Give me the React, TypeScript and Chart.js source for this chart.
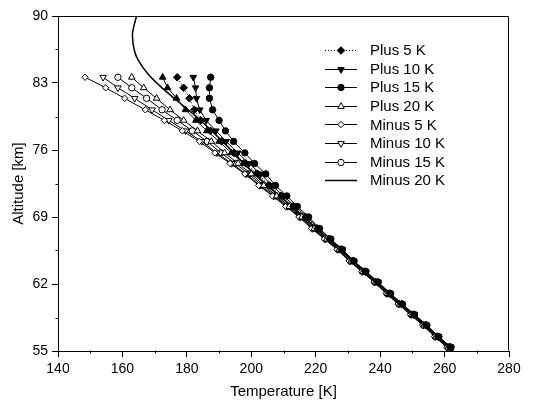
import { useEffect, useRef } from 'react';
import { Chart, registerables } from 'chart.js';
import * as helpers from 'chart.js/helpers';

Chart.register(...registerables);

// Altitude levels of the marked profiles [km], bottom to top
const altitudes = [55.4, 56.5, 57.7, 58.8, 59.9, 61.0, 62.2, 63.3, 64.4, 65.6, 66.7, 67.8, 69.0, 70.1, 71.2, 72.3, 73.5, 74.6, 75.7, 76.9, 78.0, 79.1, 80.2, 81.4, 82.5, 83.6];

// Temperatures [K] at each altitude level
const plus5K = [261.8, 258.0, 254.3, 250.5, 246.7, 243.0, 239.2, 235.4, 231.7, 228.0, 224.3, 220.6, 216.9, 213.1, 209.4, 205.7, 202.0, 198.3, 194.6, 190.8, 187.3, 184.3, 182.3, 180.8, 179.0, 177.0];
const plus10K = [261.9, 258.1, 254.4, 250.6, 246.8, 243.1, 239.3, 235.5, 231.8, 228.2, 224.5, 220.9, 217.3, 213.6, 210.0, 206.4, 202.9, 199.3, 195.8, 192.2, 189.0, 186.0, 184.0, 183.0, 182.7, 182.0];
const plus15K = [262.0, 258.2, 254.5, 250.7, 246.9, 243.2, 239.4, 235.6, 231.9, 228.3, 224.7, 221.2, 217.8, 214.3, 211.0, 207.5, 204.5, 201.0, 198.0, 194.5, 192.0, 190.0, 188.0, 187.0, 187.0, 187.4];
const plus20K = [261.1, 257.3, 253.6, 249.8, 246.0, 242.3, 238.5, 234.7, 230.9, 227.2, 223.4, 219.5, 215.7, 211.8, 207.9, 203.9, 200.0, 195.9, 191.7, 187.6, 183.3, 179.0, 174.8, 170.6, 166.6, 162.9];
const minus5K = [260.7, 256.9, 253.2, 249.4, 245.6, 241.9, 238.1, 234.3, 230.4, 226.6, 222.7, 218.7, 214.8, 210.7, 206.6, 202.3, 198.0, 193.4, 188.7, 183.9, 178.6, 173.0, 167.1, 160.7, 154.8, 148.4];
const minus10K = [260.9, 257.1, 253.4, 249.6, 245.8, 242.1, 238.3, 234.5, 230.6, 226.8, 222.9, 219.0, 215.1, 211.0, 206.9, 202.7, 198.4, 193.9, 189.3, 184.6, 179.6, 174.4, 169.2, 163.8, 158.6, 154.0];
const minus15K = [261.0, 257.2, 253.5, 249.7, 245.9, 242.2, 238.4, 234.6, 230.8, 227.0, 223.1, 219.2, 215.4, 211.4, 207.4, 203.3, 199.2, 195.0, 190.6, 186.3, 181.7, 177.0, 172.3, 167.5, 162.9, 158.6];
const unlabeledFilledTri = [261.7, 257.9, 254.2, 250.4, 246.7, 242.9, 239.1, 235.4, 231.6, 227.9, 224.1, 220.3, 216.6, 212.8, 209.0, 205.2, 201.4, 197.6, 193.8, 190.0, 186.2, 182.8, 179.6, 176.8, 174.0, 172.5];

// Solid line profile (no markers)
const minus20KAlt = [55.0, 60.0, 65.0, 70.0, 73.0, 75.0, 76.5, 77.6, 78.6, 79.7, 80.7, 81.7, 82.8, 84.0, 85.4, 86.4, 88.0, 89.0, 90.0];
const minus20KTemp = [262.8, 246.2, 229.5, 212.8, 202.5, 196.5, 192.3, 189.0, 185.8, 182.2, 178.6, 175.0, 171.3, 167.8, 164.9, 163.7, 163.1, 163.6, 164.4];

const seriesLabels = ['Plus 5 K', 'Plus 10 K', 'Plus 15 K', 'Plus 20 K', 'Minus 5 K', 'Minus 10 K', 'Minus 15 K', 'Minus 20 K'];

const xMin = 140, xMax = 280, xStep = 20;
const yMin = 55, yMax = 90, yStep = 7;
const xMinorTicks = [150, 170, 190, 210, 230, 250, 270];
const yMinorTicks = [58.5, 65.5, 72.5, 79.5, 86.5];

const FONT = '"Liberation Sans", Arial, Helvetica, sans-serif';

const toPoints = (temps: number[], alts: number[]) => temps.map((t, i) => ({ x: t, y: alts[i] }));

const marker = (style: string, radius: number, filled: boolean, rotation = 0) => ({
  pointStyle: style,
  pointRadius: radius,
  pointHoverRadius: radius,
  pointRotation: rotation,
  pointBackgroundColor: filled ? '#000' : '#fff',
  pointBorderColor: '#000',
  pointBorderWidth: 1,
});

const framePlugin = {
  id: 'frameAndMinorTicks',
  afterDraw(chart: any) {
    const { ctx, chartArea } = chart;
    const xs = chart.scales.x, ys = chart.scales.y;
    const L = Math.round(chartArea.left) + 0.5, R = Math.round(chartArea.right) - 0.5;
    const T = Math.round(chartArea.top) + 0.5, B = Math.round(chartArea.bottom) - 0.5;
    ctx.save();
    ctx.strokeStyle = '#000';
    ctx.lineWidth = 1;
    ctx.beginPath();
    ctx.moveTo(L, T); ctx.lineTo(R, T); ctx.lineTo(R, B);
    ctx.stroke();
    ctx.beginPath();
    xMinorTicks.forEach((v) => {
      const px = Math.round(xs.getPixelForValue(v)) + 0.5;
      ctx.moveTo(px, B); ctx.lineTo(px, B + 3);
    });
    yMinorTicks.forEach((v) => {
      const py = Math.round(ys.getPixelForValue(v)) + 0.5;
      ctx.moveTo(L, py); ctx.lineTo(L - 3, py);
    });
    ctx.stroke();
    ctx.restore();
  },
};

const legendPlugin = {
  id: 'lineMarkerLegend',
  afterDraw(chart: any) {
    const { ctx } = chart;
    const x0 = 325, x1 = 357, textX = 370, rowTop = 50, rowGap = 18.6;
    ctx.save();
    seriesLabels.forEach((label, i) => {
      const ds = chart.data.datasets.find((d: any) => d.label === label);
      if (!ds) return;
      const y = rowTop + i * rowGap;
      ctx.strokeStyle = '#000';
      ctx.lineWidth = ds.borderWidth || 1;
      ctx.setLineDash(ds.borderDash || []);
      ctx.beginPath();
      ctx.moveTo(x0, Math.round(y) + 0.5);
      ctx.lineTo(x1, Math.round(y) + 0.5);
      ctx.stroke();
      ctx.setLineDash([]);
      if (ds.pointRadius > 0) {
        ctx.fillStyle = ds.pointBackgroundColor;
        ctx.strokeStyle = ds.pointBorderColor;
        ctx.lineWidth = ds.pointBorderWidth;
        helpers.drawPoint(ctx, {
          pointStyle: ds.pointStyle,
          radius: ds.pointRadius,
          rotation: ds.pointRotation || 0,
          borderWidth: ds.pointBorderWidth,
        } as any, (x0 + x1) / 2, Math.round(y) + 0.5);
      }
      ctx.fillStyle = '#000';
      ctx.font = `15px ${FONT}`;
      ctx.textBaseline = 'middle';
      ctx.textAlign = 'left';
      ctx.fillText(label, textX, y + 1);
    });
    ctx.restore();
  },
};

export default function App() {
  const ref = useRef<HTMLCanvasElement | null>(null);
  useEffect(() => {
    document.body.style.margin = '0';
    const lineBase = { showLine: true, borderColor: '#000', borderWidth: 1, fill: false };
    const chart = new Chart(ref.current as HTMLCanvasElement, {
      type: 'scatter',
      data: {
        datasets: [
          { label: seriesLabels[0], data: toPoints(plus5K, altitudes), ...lineBase, borderDash: [1, 2], ...marker('rectRot', 3.8, true) },
          { label: seriesLabels[1], data: toPoints(plus10K, altitudes), ...lineBase, ...marker('triangle', 3.8, true, 180) },
          { label: seriesLabels[2], data: toPoints(plus15K, altitudes), ...lineBase, ...marker('circle', 3.2, true) },
          { label: seriesLabels[3], data: toPoints(plus20K, altitudes), ...lineBase, ...marker('triangle', 3.8, false) },
          { label: seriesLabels[4], data: toPoints(minus5K, altitudes), ...lineBase, ...marker('rectRot', 3.2, false) },
          { label: seriesLabels[5], data: toPoints(minus10K, altitudes), ...lineBase, ...marker('triangle', 3.8, false, 180) },
          { label: seriesLabels[6], data: toPoints(minus15K, altitudes), ...lineBase, ...marker('circle', 3.2, false) },
          { label: seriesLabels[7], data: toPoints(minus20KTemp, minus20KAlt), ...lineBase, borderWidth: 1.5, tension: 0.3, pointRadius: 0, pointHoverRadius: 0 },
          { label: '', data: toPoints(unlabeledFilledTri, altitudes), ...lineBase, ...marker('triangle', 3.8, true) },
        ] as any,
      },
      options: {
        responsive: false,
        devicePixelRatio: 1,
        animation: false,
        layout: { padding: { left: 0, top: 16, right: 32, bottom: 0 } },
        plugins: { legend: { display: false }, tooltip: { enabled: false } },
        scales: {
          x: {
            type: 'linear',
            min: xMin,
            max: xMax,
            afterFit: (s: any) => { s.height = 49; },
            ticks: { stepSize: xStep, color: '#000', font: { family: FONT, size: 14 }, padding: 4, maxRotation: 0 },
            grid: { drawOnChartArea: false, drawTicks: true, tickLength: 6, color: '#000', tickColor: '#000' },
            border: { display: true, color: '#000', width: 1 },
            title: { display: true, text: 'Temperature [K]', color: '#000', font: { family: FONT, size: 15, lineHeight: 1.1 }, padding: { top: 0, bottom: 0 } },
          },
          y: {
            type: 'linear',
            min: yMin,
            max: yMax,
            afterFit: (s: any) => { s.width = 58; },
            ticks: { stepSize: yStep, color: '#000', font: { family: FONT, size: 14 }, padding: 4 },
            grid: { drawOnChartArea: false, drawTicks: true, tickLength: 6, color: '#000', tickColor: '#000' },
            border: { display: true, color: '#000', width: 1 },
            title: { display: true, text: 'Altitude [km]', color: '#000', font: { family: FONT, size: 15, lineHeight: 1.1 }, padding: { top: 11, bottom: 0 } },
          },
        },
      } as any,
      plugins: [framePlugin, legendPlugin],
    });
    return () => chart.destroy();
  }, []);
  return <canvas ref={ref} width={541} height={400} style={{ display: 'block', width: 541, height: 400 }} />;
}
